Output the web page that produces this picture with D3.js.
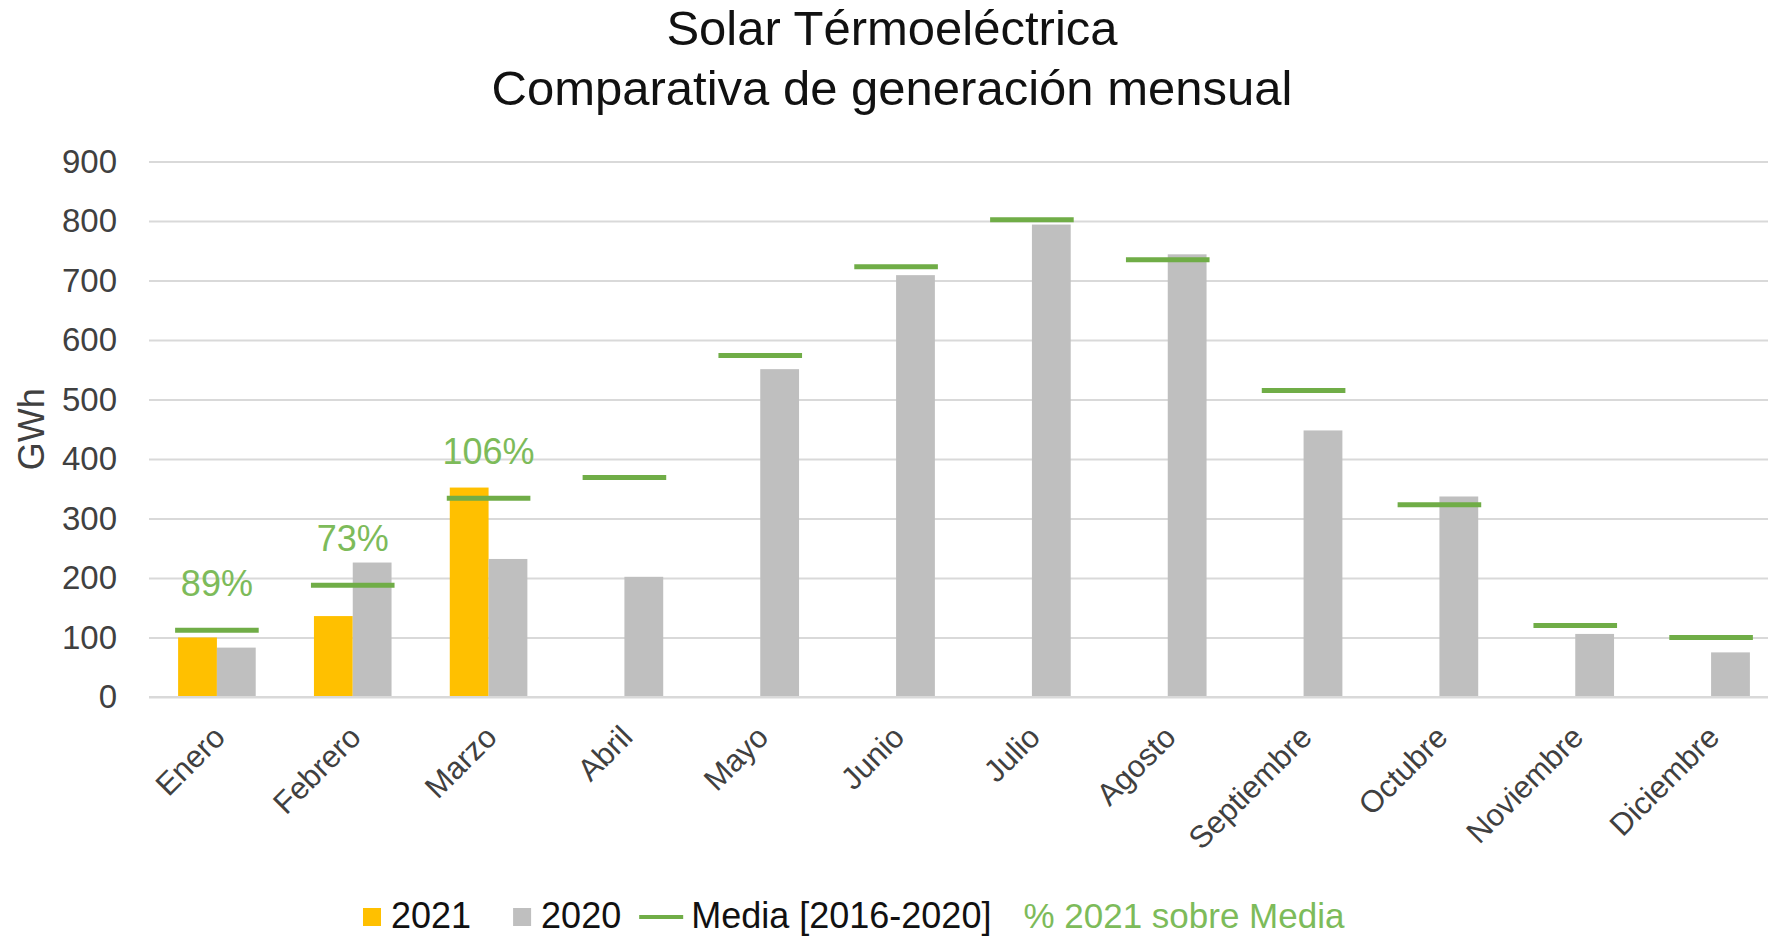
<!DOCTYPE html>
<html>
<head>
<meta charset="utf-8">
<script src="https://cdn.jsdelivr.net/npm/d3@7"></script>
<style>
  body { margin: 0; background: #fff; }
  svg { display: block; font-family: "Liberation Sans", Arial, sans-serif; }
</style>
</head>
<body>
<div id="chart"></div>
<script>
// data (GWh)
var months = ["Enero", "Febrero", "Marzo", "Abril", "Mayo", "Junio", "Julio",
              "Agosto", "Septiembre", "Octubre", "Noviembre", "Diciembre"];
var series = ["2021", "2020"];
var values2021 = [100, 136, 352];
var values2020 = [83, 226, 232, 202, 551, 709, 794, 744, 448, 337, 106, 75];
var media = [112, 188, 334, 369, 574, 723, 802, 735, 515, 323, 120, 100];
var pctLabels = ["89%", "73%", "106%"];
var yTicks = [0, 100, 200, 300, 400, 500, 600, 700, 800, 900];

var colors = {"2021": "#FFC000", "2020": "#BFBFBF"};
var green = "#70AD47", greenText = "#7DBB5A";

var W = 1768, H = 937;
var plot = {left: 149, right: 1779, top: 161.5, bottom: 697};

var svg = d3.select("#chart").append("svg")
    .attr("width", W)
    .attr("height", H);

svg.append("rect").attr("width", W).attr("height", H).attr("fill", "#fff");

// scales
var x = d3.scaleBand()
    .domain(months)
    .range([plot.left, plot.right])
    .paddingInner(0.4287)
    .paddingOuter(0.2143);

var xs = d3.scaleBand().domain(series).range([0, x.bandwidth()]);

var y = d3.scaleLinear().domain([0, 900]).range([plot.bottom, plot.top]);

// title
var title = svg.append("text")
    .attr("text-anchor", "middle")
    .attr("fill", "#111")
    .style("font-size", "49px");
title.append("tspan").attr("x", 892).attr("y", 45).text("Solar Térmoeléctrica");
title.append("tspan").attr("x", 892).attr("y", 105).text("Comparativa de generación mensual");

// gridlines + y labels
var yAxis = d3.axisLeft(y)
    .tickValues(yTicks)
    .tickSize(-(plot.right - plot.left))
    .tickPadding(32);

var gy = svg.append("g")
    .attr("transform", "translate(" + plot.left + ",0)")
    .call(yAxis);
gy.select(".domain").remove();
gy.selectAll(".tick line").attr("stroke", "#D9D9D9").attr("stroke-width", 2);
gy.selectAll(".tick text")
    .attr("fill", "#404040")
    .style("font-size", "33px")
    .style("font-family", "Liberation Sans, Arial, sans-serif");

svg.append("text")
    .attr("transform", "translate(44," + ((plot.top + plot.bottom) / 2) + ") rotate(-90)")
    .attr("text-anchor", "middle")
    .attr("fill", "#404040")
    .style("font-size", "36px")
    .text("GWh");

// bars
var rows = months.map(function(m, i) {
  return {month: m, "2021": values2021[i], "2020": values2020[i], media: media[i], pct: pctLabels[i]};
});

var groups = svg.append("g").selectAll("g")
    .data(rows)
    .enter().append("g")
    .attr("transform", function(d) { return "translate(" + x(d.month) + ",0)"; });

groups.selectAll("rect")
    .data(function(d) {
      return series.map(function(s) { return {key: s, value: d[s]}; })
        .filter(function(e) { return e.value != null; });
    })
    .enter().append("rect")
    .attr("x", function(d) { return xs(d.key); })
    .attr("y", function(d) { return y(d.value); })
    .attr("width", xs.bandwidth())
    .attr("height", function(d) { return y(0) - y(d.value); })
    .attr("fill", function(d) { return colors[d.key]; });

// zero axis line
svg.append("line")
    .attr("x1", plot.left).attr("x2", plot.right)
    .attr("y1", y(0)).attr("y2", y(0))
    .attr("stroke", "#D9D9D9")
    .attr("stroke-width", 2);

// media dashes
groups.append("line")
    .attr("x1", -3)
    .attr("x2", x.bandwidth() + 3)
    .attr("y1", function(d) { return y(d.media); })
    .attr("y2", function(d) { return y(d.media); })
    .attr("stroke", green)
    .attr("stroke-width", 5);

// % labels
groups.filter(function(d) { return d.pct; })
    .append("text")
    .attr("x", x.bandwidth() / 2)
    .attr("y", function(d) { return y(d.media) - 34; })
    .attr("text-anchor", "middle")
    .attr("fill", greenText)
    .style("font-size", "36px")
    .text(function(d) { return d.pct; });

// month labels, rotated
svg.append("g").selectAll("text")
    .data(months)
    .enter().append("text")
    .attr("transform", function(d) {
      return "translate(" + (x(d) + x.bandwidth() / 2 + 10) + "," + (plot.bottom + 42) + ") rotate(-45)";
    })
    .attr("text-anchor", "end")
    .attr("fill", "#404040")
    .style("font-size", "31px")
    .text(function(d) { return d; });

// legend
var legend = svg.append("g").style("font-size", "36px");
var lx = 363, ly = 928;

function legendText(txt, color, size) {
  var t = legend.append("text").attr("x", lx).attr("y", ly).attr("fill", color).text(txt);
  if (size) t.style("font-size", size);
  lx += t.node().getComputedTextLength();
}

series.forEach(function(s, i) {
  legend.append("rect")
      .attr("x", lx).attr("y", ly - 20)
      .attr("width", 18).attr("height", 18)
      .attr("fill", colors[s]);
  lx += 28;
  legendText(s, "#111");
  lx += (i === 0) ? 42 : 18;
});

legend.append("line")
    .attr("x1", lx).attr("x2", lx + 44)
    .attr("y1", ly - 11).attr("y2", ly - 11)
    .attr("stroke", green)
    .attr("stroke-width", 4);
lx += 52;
legendText("Media [2016-2020]", "#111");
lx += 32;
legendText("% 2021 sobre Media", greenText, "35px");
</script>
</body>
</html>
